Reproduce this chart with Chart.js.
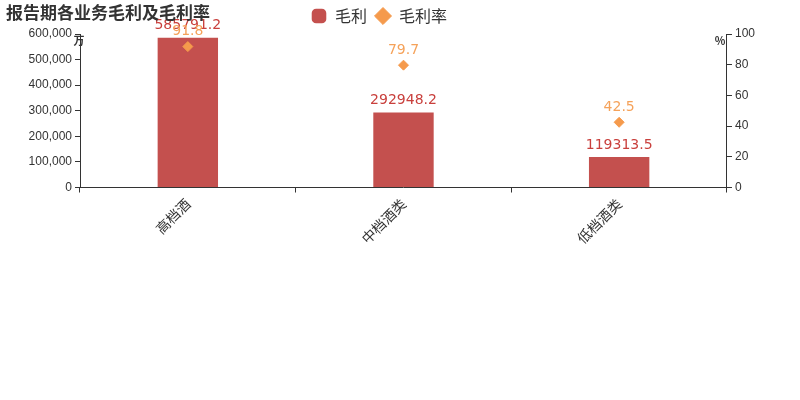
<!DOCTYPE html>
<html><head><meta charset="utf-8">
<script src="https://cdn.jsdelivr.net/npm/chart.js@4"></script>
<style>body{margin:0;background:#fff}#wrap{width:800px;height:400px;position:relative}</style>
</head><body><div id="wrap"><canvas id="c"></canvas></div>
<script>
const categories = ["高档酒", "中档酒类", "低档酒类"];
const profit = [585791.2, 292948.2, 119313.5];
const margin = [91.8, 79.7, 42.5];

// draw value labels above marks, title and unit labels
const labelPlugin = {
    id: "labels",
    afterDatasetsDraw(chart) {
        const ctx = chart.ctx;
        ctx.save();
        ctx.font = "14px 'DejaVu Sans'";
        ctx.textAlign = "center";
        ctx.textBaseline = "bottom";
        chart.data.datasets.forEach((ds, i) => {
            const meta = chart.getDatasetMeta(i);
            ctx.fillStyle = ds.labelColor;
            meta.data.forEach((el, j) => {
                ctx.fillText(String(ds.data[j]), el.x, el.y - (i === 0 ? 5 : 8));
            });
        });
        ctx.font = "bold 11px 'Noto Sans CJK SC'";
        ctx.fillStyle = "#333";
        ctx.fillText("万", 79, 46);
        ctx.fillText("%", 720, 46);
        ctx.font = "bold 17px 'Noto Sans CJK SC'";
        ctx.textAlign = "left";
        ctx.textBaseline = "middle";
        ctx.fillText("报告期各业务毛利及毛利率", 6, 13);
        ctx.restore();
    }
};

new Chart(document.getElementById("c"), {
    data: {
        labels: categories,
        datasets: [
            {
                type: "bar", label: "毛利", data: profit, yAxisID: "y",
                backgroundColor: "#c4504e", borderColor: "#c4504e", labelColor: "#c9403d",
                pointStyle: "rectRounded",
                barPercentage: 0.28, categoryPercentage: 1, order: 2
            },
            {
                type: "line", label: "毛利率", data: margin, yAxisID: "y1",
                showLine: false, pointStyle: "rectRot", pointRadius: 5,
                backgroundColor: "#f59a4c", borderColor: "#f59a4c", labelColor: "#f5a25a", order: 1
            }
        ]
    },
    options: {
        responsive: true, maintainAspectRatio: false, animation: false,
        layout: { padding: { left: 0, right: 42, top: 0, bottom: 150 } },
        plugins: {
            legend: { position: "top", labels: { usePointStyle: true, boxHeight: 12, padding: 8,
                sort: (a, b) => a.datasetIndex - b.datasetIndex,
                font: { size: 16, family: "'Noto Sans CJK SC'" }, color: "#333" } },
            tooltip: { enabled: false }
        },
        scales: {
            x: {
                grid: { drawOnChartArea: false, tickLength: 5, color: "#333", offset: true },
                border: { color: "#333" },
                ticks: { maxRotation: 45, minRotation: 45, color: "#333", font: { size: 14, family: "'Noto Sans CJK SC'" } }
            },
            y: {
                position: "left", min: 0, max: 600000, afterFit(s) { s.width = 80; },
                ticks: { stepSize: 100000, color: "#333", font: { size: 12 } },
                grid: { drawOnChartArea: false, tickLength: 5, color: "#333" }, border: { color: "#333" }
            },
            y1: {
                position: "right", min: 0, max: 100,
                ticks: { stepSize: 20, color: "#333", font: { size: 12 } },
                grid: { drawOnChartArea: false, tickLength: 5, color: "#333" }, border: { color: "#333" }
            }
        }
    },
    plugins: [labelPlugin, {
        id: "top",
        beforeLayout(chart) { chart.options.layout.padding.top = 0; },
        afterFit() {}
    }]
});
</script></body></html>
